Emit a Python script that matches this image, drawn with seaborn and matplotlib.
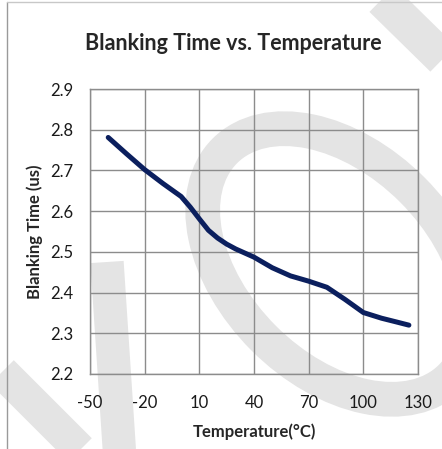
import numpy as np
import pandas as pd
import matplotlib
matplotlib.use("Agg")
import matplotlib.pyplot as plt
import seaborn as sns
from matplotlib.patches import Ellipse

# values
temperature = [-40, -30, -20, -10, 0, 5, 10, 15, 20, 25, 30, 40, 50, 60, 70, 80, 90, 100, 110, 118, 125]
blanking_us = [2.781, 2.741, 2.702, 2.668, 2.636, 2.610, 2.581, 2.553, 2.534, 2.519, 2.507, 2.487,
               2.461, 2.441, 2.428, 2.413, 2.383, 2.351, 2.337, 2.328, 2.320]
x_ticks = [-50, -20, 10, 40, 70, 100, 130]
y_ticks = [2.2, 2.3, 2.4, 2.5, 2.6, 2.7, 2.8, 2.9]

df = pd.DataFrame({'temp': temperature, 'blank': blanking_us})

sns.set_style("white")
plt.rcParams['font.family'] = ['Lato', 'DejaVu Sans']
plt.rcParams['axes.unicode_minus'] = False

W, H = 442, 449
fig = plt.figure(figsize=(W / 100, H / 100), dpi=100)

# background watermark + chart border, in pixel coords
bg = fig.add_axes([0, 0, 1, 1], zorder=-1)
bg.set_xlim(0, W)
bg.set_ylim(H, 0)
bg.axis('off')
wm = '#e4e4e4'
bg.add_patch(Ellipse((338, 264), 320, 210, angle=45, fill=False, edgecolor=wm, lw=25))
bg.plot([378, 480], [-5, 95], color=wm, lw=26, solid_capstyle='butt')
bg.plot([2, 92], [372, 462], color=wm, lw=24, solid_capstyle='butt')
bg.plot([107, 120], [262, 460], color=wm, lw=24, solid_capstyle='butt')
bg.plot([6.5, 6.5], [1.5, H], color='#9a9a9a', lw=1)
bg.plot([6.5, W], [1.5, 1.5], color='#c8c8c8', lw=1)

ax = fig.add_axes([90 / W, 1 - 374 / H, 328 / W, 285 / H])
ax.patch.set_alpha(0)
sns.lineplot(data=df, x='temp', y='blank', ax=ax, color='#0b1f5e', lw=3.6)

ax.set_xlim(-50, 130)
ax.set_ylim(2.2, 2.9)
ax.set_xticks(x_ticks)
ax.set_yticks(y_ticks)
ax.set_yticklabels([f'{v:.1f}' for v in y_ticks])
ax.grid(True, color='#8c8c8c', lw=1)
for s in ax.spines.values():
    s.set_color('#8c8c8c')
    s.set_linewidth(1)
ax.tick_params(length=0, labelsize=12, colors='#1a1a1a')
ax.tick_params(axis='x', pad=15)
ax.tick_params(axis='y', pad=12)

ax.set_xlabel('Temperature(°C)', fontsize=12, fontweight='bold', labelpad=9)
ax.set_ylabel('Blanking Time (us)', fontsize=12, fontweight='bold', labelpad=5)

fig.text(233 / W, 1 - 43 / H, 'Blanking Time vs. Temperature', fontsize=15.5,
         fontweight='bold', ha='center', va='center')

fig.savefig('out.png', dpi=100)
